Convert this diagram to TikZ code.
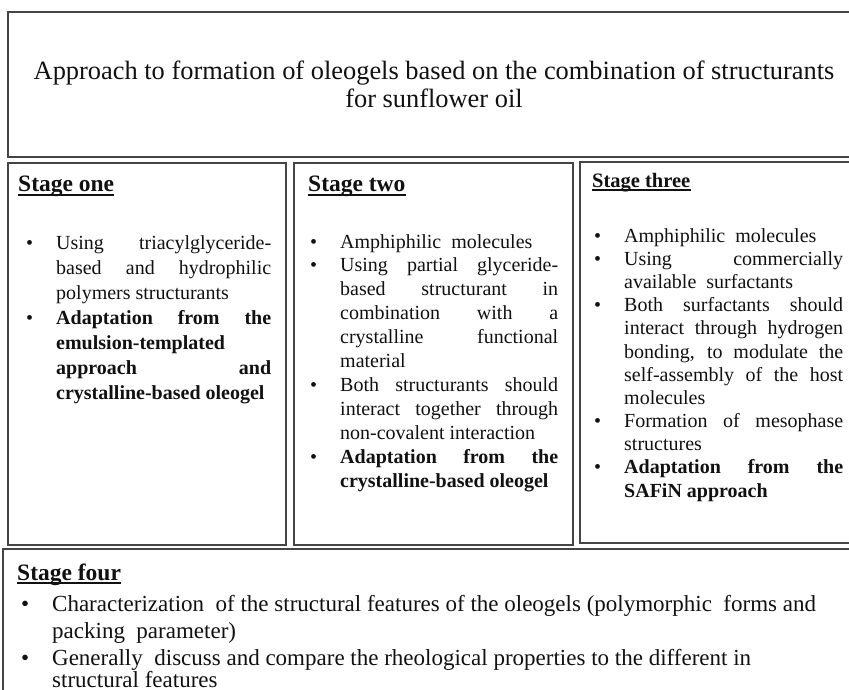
\documentclass[tikz,border=0pt]{standalone}
\usepackage{fontspec}
\setmainfont{Liberation Serif}

\definecolor{framegray}{HTML}{454545}
\definecolor{inkblack}{HTML}{111111}

% one justified line, one natural line, and a hanging bullet
\newcommand\jl[1]{\hbox to\hsize{#1}}
\newcommand\nl[1]{\hbox{#1}}
\newcommand\bul{\llap{\textbullet\hspace{23pt}}}
% a stack of lines: width, line distance, lines
\newcommand\linestack[3]{\vtop{\hsize=#1\baselineskip=#2\lineskiplimit=-20pt\relax #3}}

\begin{document}
\begin{tikzpicture}[x=1pt,y=-1pt,
  frame/.style={draw=framegray, line width=1.5pt},
  bodytext/.style={inner sep=0pt, anchor=base west, text=inkblack,
    font=\fontsize{20}{24}\selectfont},
  heading/.style={inner sep=0pt, anchor=base west, text=inkblack,
    font=\fontsize{23.5}{26}\selectfont\bfseries},
  headrule/.style={draw=inkblack, line width=1.3pt}]

\useasboundingbox (0,0) rectangle (849,690);
\fill[white] (0,0) rectangle (849,690);
\clip (0,0) rectangle (849,690);

% frames
\draw[frame] (8,12) rectangle (860,157);
\draw[frame] (8,163) rectangle (286,545);
\draw[frame] (294,163) rectangle (573,545);
\draw[frame] (580,162) rectangle (860,543);
\draw[frame] (3,549) rectangle (860,700);

% title
\node[inner sep=0pt, align=center, text=inkblack,
      font=\fontsize{26.4}{28}\selectfont] (title) at (434,84)
  {Approach to formation of oleogels based on the combination of structurants\\
   for sunflower oil};

% stage one
\node[heading] (h1) at (18,192) {Stage one};
\draw[headrule] ([yshift=-3pt]h1.base west) -- ([yshift=-3pt]h1.base east);
\node[bodytext] (s1) at (56,249) {\linestack{215pt}{25pt}{%
  \jl{\bul Using triacylglyceride-}
  \jl{based and hydrophilic}
  \nl{polymers structurants}
  \jl{\bul\bfseries Adaptation from the}
  \nl{\bfseries emulsion-templated}
  \jl{\bfseries approach and}
  \nl{\bfseries crystalline-based oleogel}}};

% stage two
\node[heading] (h2) at (308,192) {Stage two};
\draw[headrule] ([yshift=-3pt]h2.base west) -- ([yshift=-3pt]h2.base east);
\node[bodytext] (s2) at (340,248) {\linestack{218pt}{23.9pt}{%
  \nl{\bul Amphiphilic\ \ molecules}
  \jl{\bul Using partial glyceride-}
  \jl{based structurant in}
  \jl{combination with a}
  \jl{crystalline functional}
  \nl{material}
  \jl{\bul Both structurants should}
  \jl{interact together through}
  \nl{non-covalent interaction}
  \jl{\bul\bfseries Adaptation from the}
  \nl{\bfseries crystalline-based oleogel}}};

% stage three
\node[heading, font=\fontsize{20.5}{24}\selectfont\bfseries] (h3) at (592,187) {Stage three};
\draw[headrule] ([yshift=-3pt]h3.base west) -- ([yshift=-3pt]h3.base east);
\node[bodytext] (s3) at (624,242) {\linestack{219pt}{23.2pt}{%
  \nl{\bul Amphiphilic\ \ molecules}
  \jl{\bul Using commercially}
  \nl{available\ \ surfactants}
  \jl{\bul Both surfactants should}
  \jl{interact through hydrogen}
  \jl{bonding, to modulate the}
  \jl{self-assembly of the host}
  \nl{molecules}
  \jl{\bul Formation of mesophase}
  \nl{structures}
  \jl{\bul\bfseries Adaptation from the}
  \nl{\bfseries SAFiN approach}}};

% stage four
\node[heading] (h4) at (17,580) {Stage four};
\draw[headrule] ([yshift=-3pt]h4.base west) -- ([yshift=-3pt]h4.base east);
\node[bodytext, font=\fontsize{23}{27}\selectfont] (s4a) at (52,611) {\linestack{790pt}{27pt}{%
  \nl{\bul Characterization\ \ of the structural features of the oleogels (polymorphic\ \ forms and}
  \nl{packing\ \ parameter)}}};
\node[bodytext, font=\fontsize{23}{27}\selectfont] (s4b) at (52,665) {\linestack{790pt}{22pt}{%
  \nl{\bul Generally\ \ discuss and compare the rheological properties to the different in}
  \nl{structural features}}};

\end{tikzpicture}
\end{document}
